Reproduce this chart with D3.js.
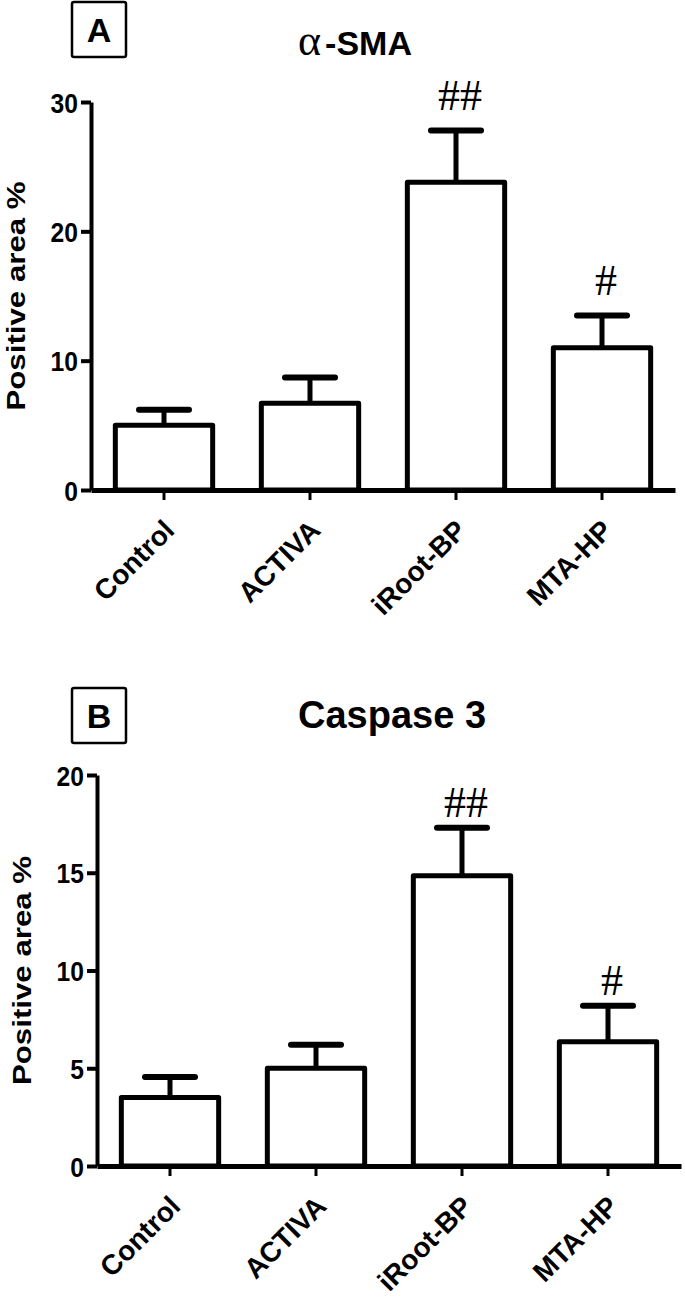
<!DOCTYPE html>
<html>
<head>
<meta charset="utf-8">
<script src="https://cdn.jsdelivr.net/npm/d3@7"></script>
<style>
  body { margin: 0; background: #fff; }
  svg { display: block; }
</style>
</head>
<body>
<div id="chart"></div>
<script>
// groups on the x axis
const categories = ['Control', 'ACTIVA', 'iRoot-BP', 'MTA-HP'];

// A: alpha-SMA positive area %
const smaMeans = [5.0, 6.7, 23.8, 11.0];
const smaErrors = [1.2, 2.0, 4.0, 2.5];
const smaMarks = ['', '', '##', '#'];
const smaTicks = [0, 10, 20, 30];

// B: Caspase 3 positive area %
const caspMeans = [3.5, 5.0, 14.85, 6.35];
const caspErrors = [1.05, 1.2, 2.45, 1.85];
const caspMarks = ['', '', '##', '#'];
const caspTicks = [0, 5, 10, 15, 20];

const sans = '"Liberation Sans", Arial, Helvetica, sans-serif';
const serif = '"Liberation Serif", "Times New Roman", serif';

const svg = d3.select('#chart').append('svg')
    .attr('width', 685)
    .attr('height', 1297);

function drawPanel({means, errors, marks, ticks, yMax, xLeft, yTop, yBottom, letter, letterY, title, titleY, yTitleX, markGap}) {
    const g = svg.append('g');

    const y = d3.scaleLinear().domain([0, yMax]).range([yBottom, yTop]);
    const x = d3.scaleBand()
        .domain(categories)
        .range([xLeft, xLeft + 584])
        .paddingInner(1 / 3)
        .paddingOuter(1 / 6);

    // y axis
    const ya = g.append('g')
        .attr('transform', 'translate(' + xLeft + ',0)')
        .call(d3.axisLeft(y).tickValues(ticks).tickSize(10).tickSizeOuter(0));
    ya.select('.domain').attr('stroke', '#000').attr('stroke-width', 4);
    ya.selectAll('.tick line').attr('stroke', '#000').attr('stroke-width', 4);
    ya.selectAll('.tick text')
        .attr('x', null).attr('dy', null)
        .attr('transform', 'translate(-13,10) scale(0.88,1)')
        .attr('text-anchor', 'end')
        .style('font-family', sans)
        .style('font-weight', 'bold')
        .style('font-size', '28px')
        .attr('fill', '#000');

    // x axis
    const xa = g.append('g')
        .attr('transform', 'translate(0,' + yBottom + ')')
        .call(d3.axisBottom(x).tickSize(10).tickSizeOuter(0));
    xa.select('.domain').attr('stroke', '#000').attr('stroke-width', 5);
    xa.selectAll('.tick line').attr('stroke', '#000').attr('stroke-width', 3);
    xa.selectAll('.tick text')
        .attr('y', 0).attr('dy', null)
        .attr('transform', 'translate(12,42) rotate(-45)')
        .attr('text-anchor', 'end')
        .style('font-family', sans)
        .style('font-weight', 'bold')
        .style('font-size', '28px')
        .attr('fill', '#000');

    const rows = categories.map((c, i) => ({c, m: means[i], e: errors[i], mark: marks[i]}));
    const bw = x.bandwidth();

    // bars
    g.selectAll('rect.bar')
        .data(rows)
        .enter().append('rect')
        .attr('class', 'bar')
        .attr('x', d => x(d.c))
        .attr('y', d => y(d.m))
        .attr('width', bw)
        .attr('height', d => yBottom - y(d.m))
        .attr('fill', '#fff')
        .attr('stroke', '#000')
        .attr('stroke-width', 5)
        .attr('stroke-linejoin', 'round');

    // error bars (upper only)
    g.selectAll('line.err')
        .data(rows)
        .enter().append('line')
        .attr('class', 'err')
        .attr('x1', d => x(d.c) + bw / 2)
        .attr('x2', d => x(d.c) + bw / 2)
        .attr('y1', d => y(d.m))
        .attr('y2', d => y(d.m + d.e))
        .attr('stroke', '#000')
        .attr('stroke-width', 5);

    g.selectAll('line.cap')
        .data(rows)
        .enter().append('line')
        .attr('class', 'cap')
        .attr('x1', d => x(d.c) + bw / 2 - 25)
        .attr('x2', d => x(d.c) + bw / 2 + 25)
        .attr('y1', d => y(d.m + d.e))
        .attr('y2', d => y(d.m + d.e))
        .attr('stroke', '#000')
        .attr('stroke-width', 6)
        .attr('stroke-linecap', 'round');

    // significance marks
    g.selectAll('text.mark')
        .data(rows.filter(d => d.mark))
        .enter().append('text')
        .attr('class', 'mark')
        .attr('x', d => x(d.c) + bw / 2 + 4)
        .attr('y', d => y(d.m + d.e) - markGap)
        .attr('text-anchor', 'middle')
        .style('font-family', serif)
        .style('font-size', '44px')
        .attr('fill', '#000')
        .text(d => d.mark);

    // y axis title
    g.append('text')
        .attr('transform', 'translate(' + yTitleX + ',' + (yTop + yBottom) / 2 + ') scale(1,1.25) rotate(-90)')
        .attr('text-anchor', 'middle')
        .style('font-family', sans)
        .style('font-weight', 'bold')
        .style('font-size', '25px')
        .attr('fill', '#000')
        .text('Positive area %');

    // panel letter in a box
    g.append('rect')
        .attr('x', 72).attr('y', letterY - 40)
        .attr('width', 54).attr('height', 55)
        .attr('rx', 2)
        .attr('fill', 'none')
        .attr('stroke', '#000')
        .attr('stroke-width', 2.5);
    g.append('text')
        .attr('x', 99).attr('y', letterY)
        .attr('text-anchor', 'middle')
        .style('font-family', sans)
        .style('font-weight', 'bold')
        .style('font-size', '34px')
        .attr('fill', '#000')
        .text(letter);

    // title
    const t = g.append('text')
        .attr('x', 298).attr('y', titleY)
        .attr('fill', '#000');
    title.forEach(part => {
        t.append('tspan')
            .attr('dx', part.dx || 0)
            .style('font-family', part.serif ? serif : sans)
            .style('font-weight', part.serif ? 'normal' : 'bold')
            .style('font-size', part.size + 'px')
            .text(part.text);
    });
}

drawPanel({
    means: smaMeans, errors: smaErrors, marks: smaMarks, ticks: smaTicks,
    yMax: 30, xLeft: 91, yTop: 102, yBottom: 490,
    letter: 'A', letterY: 42,
    title: [{text: 'α', serif: true, size: 44}, {text: '-SMA', size: 34, dx: 4}],
    titleY: 55, yTitleX: 25, markGap: 20
});

drawPanel({
    means: caspMeans, errors: caspErrors, marks: caspMarks, ticks: caspTicks,
    yMax: 20, xLeft: 97, yTop: 775, yBottom: 1166,
    letter: 'B', letterY: 728,
    title: [{text: 'Caspase 3', size: 38}],
    titleY: 728, yTitleX: 31, markGap: 11
});
</script>
</body>
</html>
